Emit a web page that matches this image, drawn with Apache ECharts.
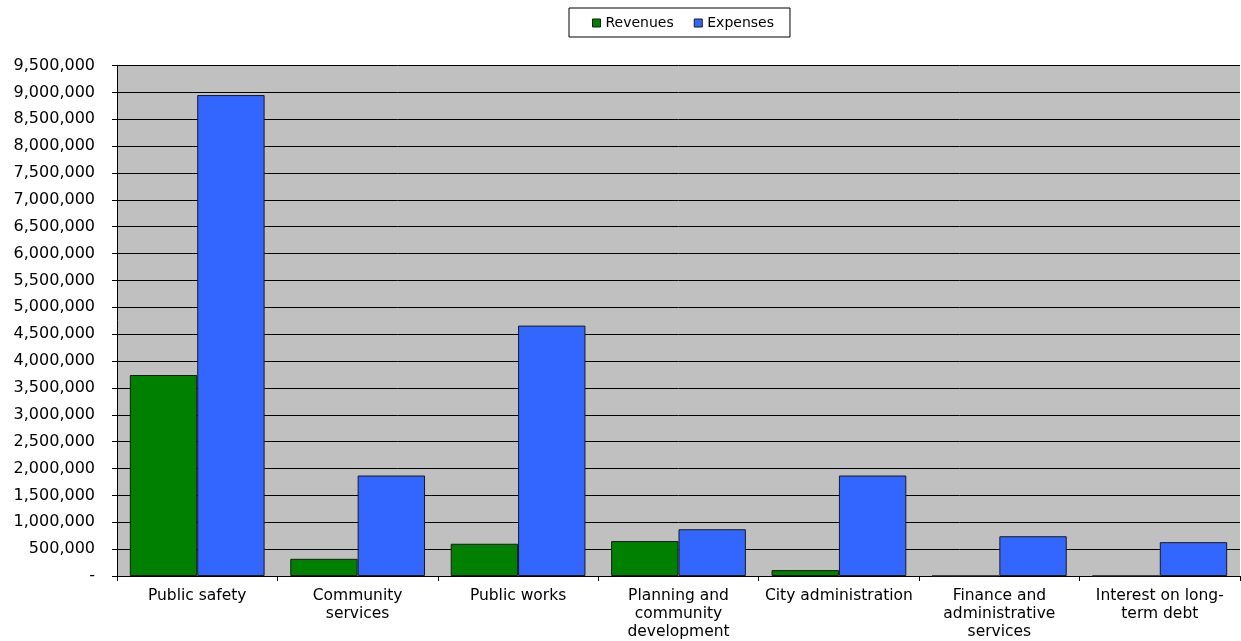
<!DOCTYPE html>
<html>
<head>
<meta charset="utf-8">
<script src="https://cdn.jsdelivr.net/npm/echarts@6/dist/echarts.min.js"></script>
<style>html,body{margin:0;padding:0;background:#fff}#c{width:1241px;height:641px}</style>
</head>
<body>
<div id="c"></div>
<script>
const categories = ["Public safety", "Community\nservices", "Public works", "Planning and\ncommunity\ndevelopment", "City administration", "Finance and\nadministrative\nservices", "Interest on long-\nterm debt"];
const revenues = [3740000, 320000, 600000, 650000, 110000, 0, 0];
const expenses = [8950000, 1870000, 4660000, 870000, 1870000, 740000, 630000];
const seriesNames = ["Revenues", "Expenses"];

const font = "DejaVu Sans";
const chart = echarts.init(document.getElementById('c'), null, {renderer: 'canvas'});
chart.setOption({
  animation: false,
  backgroundColor: '#fff',
  legend: {
    left: 569, top: 8,
    padding: [8, 16, 7, 23],
    borderColor: '#000', borderWidth: 1,
    icon: 'rect',
    itemWidth: 8, itemHeight: 8, itemGap: 20,
    textStyle: {fontFamily: font, fontSize: 14, color: '#000'},
    itemStyle: {borderColor: '#1a1a1a', borderWidth: 1},
    data: seriesNames
  },
  grid: {left: 117, right: 1, top: 65.5, bottom: 64.5, show: true, backgroundColor: '#c0c0c0', borderWidth: 0},
  xAxis: {
    type: 'category', data: categories,
    axisLine: {lineStyle: {color: '#000', width: 1}},
    axisTick: {show: true, length: 5, lineStyle: {color: '#000'}},
    axisLabel: {fontFamily: font, fontSize: 15.5, color: '#000', lineHeight: 18, margin: 11, interval: 0}
  },
  yAxis: {
    type: 'value', min: 0, max: 9500000, interval: 500000,
    axisLine: {show: true, lineStyle: {color: '#000', width: 1}},
    axisTick: {show: true, length: 5, lineStyle: {color: '#000'}},
    splitLine: {show: true, lineStyle: {color: '#000', width: 1}},
    axisLabel: {
      fontFamily: font, fontSize: 16, color: '#000', margin: 22,
      formatter: v => v === 0 ? '-' : v.toLocaleString('en-US')
    }
  },
  series: [
    {name: seriesNames[0], type: 'bar', data: revenues, barGap: '0%', barCategoryGap: '16%',
     itemStyle: {color: '#008000', borderColor: '#1a1a1a', borderWidth: 1}},
    {name: seriesNames[1], type: 'bar', data: expenses, barGap: '0%', barCategoryGap: '16%',
     itemStyle: {color: '#3366ff', borderColor: '#1a1a1a', borderWidth: 1}}
  ]
});
</script>
</body>
</html>
